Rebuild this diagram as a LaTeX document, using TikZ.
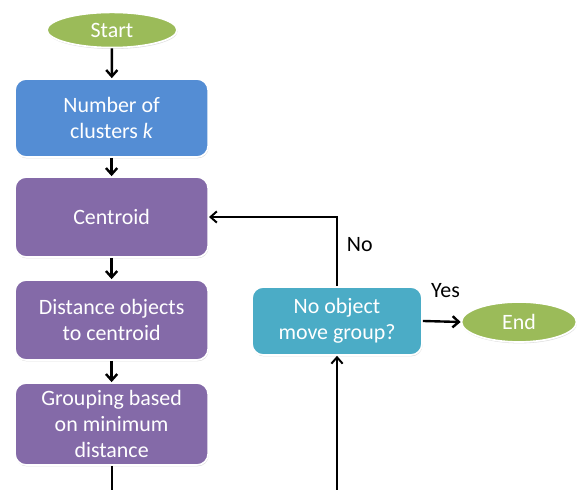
\documentclass[tikz,border=0pt]{standalone}
\usepackage{fontspec}
\setmainfont{Carlito}
\usetikzlibrary{arrows.meta,shapes.geometric,shadows}

\definecolor{termgreen}{RGB}{155,187,89}
\definecolor{stepblue}{RGB}{84,141,212}
\definecolor{steppurple}{RGB}{132,106,168}
\definecolor{checkcyan}{RGB}{75,172,198}

\begin{document}
\begin{tikzpicture}[>={Straight Barb[length=4.5pt,width=8pt]},
    % 通用方块样式
    block/.style={
        draw=white,
        line width=1.2pt,
        rounded corners=8pt,
        minimum width=4.83cm,
        minimum height=2cm,
        align=center,
        text=white,
        font=\fontsize{15.6}{18.8}\selectfont,
        drop shadow={opacity=0.25, shadow xshift=0.4pt, shadow yshift=-1pt}
    },
    % 开始/结束椭圆
    terminal/.style={
        ellipse,
        draw=white,
        line width=1.2pt,
        fill=termgreen,
        text=white,
        inner sep=0pt,
        font=\fontsize{15.6}{18.8}\selectfont,
        drop shadow={opacity=0.25, shadow xshift=0.4pt, shadow yshift=-1pt}
    },
    % 箭头样式
    arrow/.style={->, line width=1.7pt, black},
    loop_line/.style={->, line width=1.4pt, black},
    text_node/.style={font=\fontsize{15.6}{18.8}\selectfont}
]
    \clip (0, 0) rectangle (14.425, 12.25);

    % ================== 左侧主流程 ==================
    \node[terminal, minimum width=3.25cm, minimum height=0.88cm] (start) at (2.8, 11.5) {Start};
    \node[block, fill=stepblue, minimum height=1.95cm] (clusters) at (2.79, 9.3) {Number of\\clusters \textit{k}};
    \node[block, fill=steppurple] (centroid) at (2.79, 6.825) {Centroid};
    \node[block, fill=steppurple] (distance) at (2.79, 4.25) {Distance objects\\to centroid};
    \node[block, fill=steppurple, minimum height=2.05cm] (grouping) at (2.79, 1.65) {Grouping based\\on minimum\\distance};

    % ================== 判断与结束 ==================
    \node[block, fill=checkcyan, minimum width=4.25cm, minimum height=1.7cm] (check) at (8.425, 4.225) {No object\\move group?};
    \node[terminal, minimum width=2.875cm, minimum height=1.0cm] (finish) at (12.975, 4.2) {End};

    % 连线
    \draw[arrow] (start) -- (clusters);
    \draw[arrow] (clusters) -- (centroid);
    \draw[arrow] (centroid) -- (distance);
    \draw[arrow] (distance) -- (grouping);

    % 回到 Centroid
    \draw[loop_line] (check.north) |- node[pos=0.3, right=3pt, text_node] {No} (centroid.east);
    \draw[arrow] (check.east) -- node[pos=0.6, above=0.45cm, text_node] {Yes} (finish.west);

    % 底部回路 (超出画面)
    \draw[loop_line] (grouping.south) -- ++(0, -1.0) -| (check.south);

\end{tikzpicture}
\end{document}
